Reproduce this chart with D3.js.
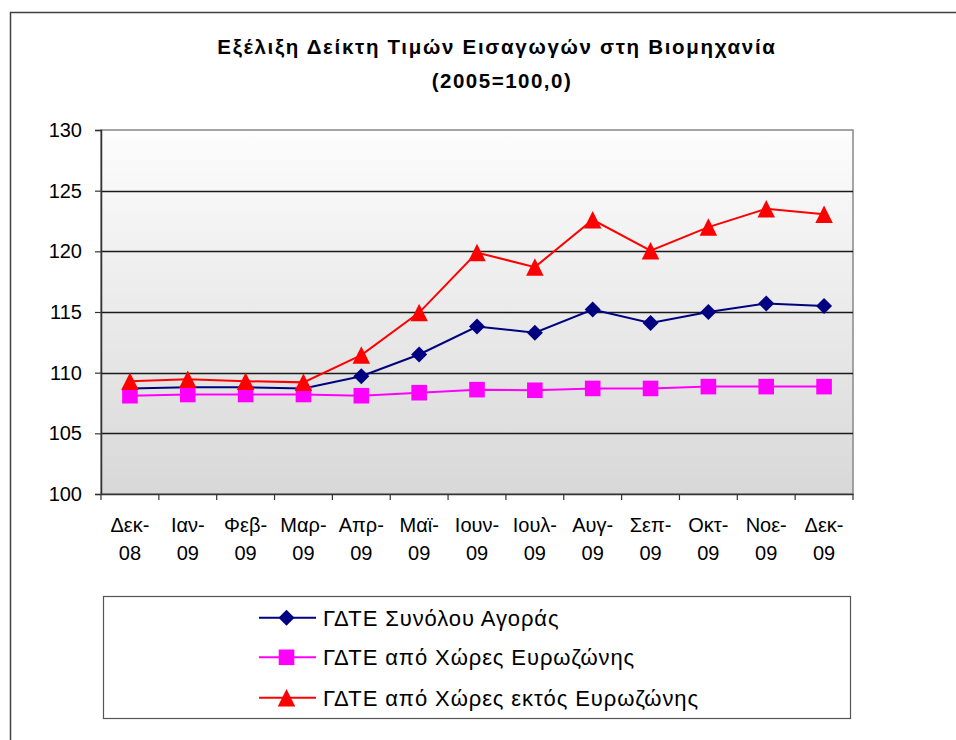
<!DOCTYPE html>
<html>
<head>
<meta charset="utf-8">
<script src="https://cdn.jsdelivr.net/npm/d3@7"></script>
<style>
  html, body { margin: 0; padding: 0; background: #fff; }
  svg { display: block; }
  text { font-family: "Liberation Sans", Arial, sans-serif; }
</style>
</head>
<body>
<svg id="chart" width="956" height="740"></svg>
<script>
// ---- Data ----
const categories = [
  ["Δεκ-", "08"], ["Ιαν-", "09"], ["Φεβ-", "09"], ["Μαρ-", "09"], ["Απρ-", "09"],
  ["Μαϊ-", "09"], ["Ιουν-", "09"], ["Ιουλ-", "09"], ["Αυγ-", "09"], ["Σεπ-", "09"],
  ["Οκτ-", "09"], ["Νοε-", "09"], ["Δεκ-", "09"]
];
const totalMarket = [108.7, 108.8, 108.8, 108.7, 109.7, 111.5, 113.8, 113.3, 115.2, 114.1, 115.0, 115.7, 115.5];
const euroArea = [108.1, 108.2, 108.2, 108.2, 108.1, 108.35, 108.6, 108.55, 108.7, 108.7, 108.85, 108.85, 108.85];
const nonEuroArea = [109.3, 109.45, 109.3, 109.2, 111.45, 114.95, 119.9, 118.7, 122.6, 120.05, 122.0, 123.5, 123.05];
const seriesNames = [
  "ΓΔΤΕ Συνόλου Αγοράς",
  "ΓΔΤΕ από Χώρες Ευρωζώνης",
  "ΓΔΤΕ από Χώρες εκτός Ευρωζώνης"
];
const yTicks = [100, 105, 110, 115, 120, 125, 130];
const titleLines = ["Εξέλιξη Δείκτη Τιμών Εισαγωγών στη Βιομηχανία", "(2005=100,0)"];

// ---- Layout ----
const svg = d3.select("#chart");
const plot = { left: 101, top: 130, right: 853, bottom: 494 };

// marker shapes (centred on their bounding box)
const diamond = s => `M0,${-s}L${s},0L0,${s}L${-s},0Z`;
const square = s => `M${-s},${-s}H${s}V${s}H${-s}Z`;
const triangle = (w, h) => `M0,${-h / 2}L${w / 2},${h / 2}L${-w / 2},${h / 2}Z`;

const series = [
  { name: seriesNames[0], values: totalMarket, color: "#000080", shape: () => diamond(8) },
  { name: seriesNames[1], values: euroArea, color: "#FF00FF", shape: () => square(7.8) },
  { name: seriesNames[2], values: nonEuroArea, color: "#FF0000", shape: () => triangle(17.5, 17.5) }
];

// outer chart frame
svg.append("rect")
  .attr("x", 10.5).attr("y", 12.5)
  .attr("width", 1000).attr("height", 1000)
  .attr("fill", "#fff").attr("stroke", "#404040").attr("stroke-width", 1.5);

// title
svg.append("text")
  .attr("x", 497).attr("y", 54)
  .attr("text-anchor", "middle")
  .attr("font-weight", "bold").attr("font-size", 20.5)
  .attr("letter-spacing", 1.7)
  .text(titleLines[0]);
svg.append("text")
  .attr("x", 502).attr("y", 88)
  .attr("text-anchor", "middle")
  .attr("font-weight", "bold").attr("font-size", 20.5)
  .attr("letter-spacing", 1.5)
  .text(titleLines[1]);

// scales
const x = d3.scaleBand()
  .domain(d3.range(categories.length))
  .range([plot.left, plot.right])
  .padding(0);
const y = d3.scaleLinear().domain([100, 130]).range([plot.bottom, plot.top]);
const cx = i => x(i) + x.bandwidth() / 2;

// background gradient
const defs = svg.append("defs");
const grad = defs.append("linearGradient")
  .attr("id", "bg").attr("x1", 0).attr("y1", 0).attr("x2", 0).attr("y2", 1);
grad.append("stop").attr("offset", "0%").attr("stop-color", "#fdfdfd");
grad.append("stop").attr("offset", "100%").attr("stop-color", "#d8d8d8");

svg.append("rect")
  .attr("x", plot.left).attr("y", plot.top)
  .attr("width", plot.right - plot.left).attr("height", plot.bottom - plot.top)
  .attr("fill", "url(#bg)")
  .attr("stroke", "#888").attr("stroke-width", 1.5);

// gridlines
svg.append("g")
  .selectAll("line")
  .data(yTicks.filter(t => t > 100 && t < 130))
  .join("line")
  .attr("x1", plot.left).attr("x2", plot.right)
  .attr("y1", d => Math.round(y(d)) + 0.5).attr("y2", d => Math.round(y(d)) + 0.5)
  .attr("stroke", "#1a1a1a").attr("stroke-width", 1.3);

// y axis
const yAxis = svg.append("g")
  .attr("transform", `translate(${plot.left},0)`)
  .call(d3.axisLeft(y).tickValues(yTicks).tickSize(6).tickPadding(13).tickFormat(d3.format("d")));
yAxis.select(".domain").attr("stroke", "#333").attr("stroke-width", 1.5);
yAxis.selectAll(".tick line").attr("stroke", "#333").attr("stroke-width", 1.2);
yAxis.selectAll(".tick text")
  .attr("font-size", 20).attr("fill", "#000")
  .attr("font-family", "'Liberation Sans', Arial, sans-serif");

// x axis (domain + tick marks at band boundaries)
const xAxis = svg.append("g")
  .attr("transform", `translate(0,${plot.bottom})`)
  .call(d3.axisBottom(x).tickSize(0).tickPadding(0).tickFormat(""));
xAxis.select(".domain").attr("stroke", "#333").attr("stroke-width", 1.5);
xAxis.selectAll(".tick").remove();

const boundaries = d3.range(categories.length + 1).map(i => i < categories.length ? x(i) : x(i - 1) + x.bandwidth());
xAxis.selectAll("line.btick")
  .data(boundaries)
  .join("line")
  .attr("class", "btick")
  .attr("x1", d => d).attr("x2", d => d)
  .attr("y1", 0).attr("y2", 6)
  .attr("stroke", "#333").attr("stroke-width", 1.2);

const xLabels = xAxis.selectAll("text.xl")
  .data(categories)
  .join("text")
  .attr("class", "xl")
  .attr("text-anchor", "middle")
  .attr("font-size", 20)
  .attr("fill", "#000");
xLabels.append("tspan").attr("x", (d, i) => cx(i)).attr("y", 38).text(d => d[0]);
xLabels.append("tspan").attr("x", (d, i) => cx(i)).attr("y", 65.5).text(d => d[1]);

// lines & markers
const line = d3.line().x((d, i) => cx(i)).y(d => y(d));
series.forEach(s => {
  const g = svg.append("g");
  g.append("path")
    .datum(s.values)
    .attr("d", line)
    .attr("fill", "none")
    .attr("stroke", s.color)
    .attr("stroke-width", 2);
  g.selectAll("path.m")
    .data(s.values)
    .join("path")
    .attr("class", "m")
    .attr("d", s.shape())
    .attr("transform", (d, i) => `translate(${cx(i)},${y(d)})`)
    .attr("fill", s.color);
});

// legend
const legend = { x: 103, y: 596, w: 747, h: 122 };
svg.append("rect")
  .attr("x", legend.x + 0.5).attr("y", legend.y + 0.5)
  .attr("width", legend.w).attr("height", legend.h)
  .attr("fill", "#fff").attr("stroke", "#555").attr("stroke-width", 1.2);
const rowsY = [617.7, 657.3, 697.7];
series.forEach((s, i) => {
  const g = svg.append("g").attr("transform", `translate(0,${rowsY[i]})`);
  g.append("line").attr("x1", 259).attr("x2", 316).attr("y1", 0).attr("y2", 0)
    .attr("stroke", s.color).attr("stroke-width", 2);
  g.append("path")
    .attr("d", s.shape())
    .attr("transform", "translate(286.5,0)")
    .attr("fill", s.color);
  g.append("text")
    .attr("x", 323).attr("y", 8)
    .attr("font-size", 22).attr("fill", "#000")
    .attr("letter-spacing", 0.9)
    .text(s.name);
});
</script>
</body>
</html>
